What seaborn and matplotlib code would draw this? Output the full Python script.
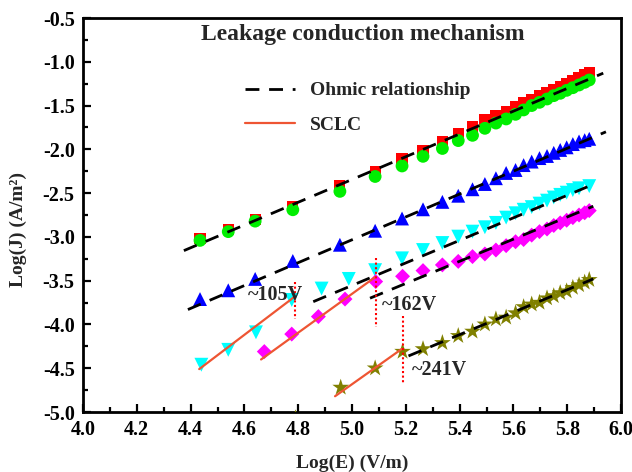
import matplotlib
matplotlib.use("Agg")
import matplotlib.pyplot as plt
from matplotlib.lines import Line2D
from matplotlib.ticker import MultipleLocator, FormatStrFormatter
import pandas as pd
import seaborn as sns

# ---- measured data: log10(E) [V/m] vs log10(J) [A/m^2] ----
x_common = [4.435, 4.54, 4.64, 4.78, 4.955, 5.086, 5.186, 5.264, 5.336, 5.395,
            5.448, 5.494, 5.535, 5.573, 5.608, 5.638, 5.668, 5.697, 5.725, 5.750,
            5.774, 5.798, 5.821, 5.844, 5.865, 5.882]

y_square = [-3.02, -2.92, -2.80, -2.65, -2.41, -2.255, -2.11, -2.01, -1.91, -1.82,
            -1.74, -1.665, -1.62, -1.57, -1.513, -1.467, -1.429, -1.39, -1.353, -1.322,
            -1.284, -1.246, -1.216, -1.178, -1.151, -1.12]

y_circle = [-3.04, -2.94, -2.82, -2.69, -2.48, -2.31, -2.19, -2.08, -1.99, -1.90,
            -1.84, -1.76, -1.70, -1.653, -1.60, -1.55, -1.50, -1.463, -1.425, -1.387,
            -1.36, -1.326, -1.296, -1.265, -1.235, -1.208]

y_up = [-3.71, -3.61, -3.48, -3.275, -3.09, -2.93, -2.79, -2.685, -2.60, -2.53,
        -2.456, -2.396, -2.33, -2.27, -2.236, -2.18, -2.14, -2.10, -2.076, -2.04,
        -2.007, -1.977, -1.94, -1.91, -1.895, -1.88]

x_down = [4.44, 4.54, 4.643, 4.776, 4.887, 4.988, 5.086, 5.186, 5.264, 5.336,
          5.395, 5.448, 5.494, 5.535, 5.573, 5.608, 5.638, 5.668, 5.697, 5.725,
          5.750, 5.774, 5.798, 5.821, 5.844, 5.882]
y_down = [-4.46, -4.29, -4.09, -3.72, -3.59, -3.48, -3.38, -3.245, -3.15, -3.07,
          -2.997, -2.94, -2.89, -2.84, -2.78, -2.73, -2.69, -2.66, -2.62, -2.586,
          -2.55, -2.52, -2.495, -2.465, -2.445, -2.42]

x_diamond = [4.674, 4.776, 4.875, 4.974, 5.088, 5.188, 5.264, 5.336, 5.395, 5.448,
             5.494, 5.535, 5.573, 5.608, 5.638, 5.668, 5.697, 5.725, 5.750, 5.774,
             5.798, 5.821, 5.844, 5.865, 5.882]
y_diamond = [-4.31, -4.11, -3.91, -3.71, -3.51, -3.45, -3.385, -3.32, -3.28, -3.225,
             -3.195, -3.15, -3.10, -3.055, -3.03, -2.98, -2.94, -2.91, -2.87, -2.84,
             -2.81, -2.78, -2.75, -2.725, -2.70]

x_star = [4.79, 4.958, 5.086, 5.188, 5.264, 5.336, 5.395, 5.448, 5.494, 5.535,
          5.573, 5.608, 5.638, 5.668, 5.697, 5.725, 5.750, 5.774, 5.798, 5.821,
          5.844, 5.865, 5.882]
y_star = [-5.07, -4.72, -4.50, -4.31, -4.28, -4.21, -4.13, -4.08, -3.998, -3.94,
          -3.92, -3.87, -3.80, -3.77, -3.75, -3.70, -3.675, -3.64, -3.62, -3.58,
          -3.55, -3.52, -3.49]

# ---- fitted segments (x0, x1, y0, y1) ----
ohmic_x0 = [4.375, 4.39, 4.856, 5.067, 5.21]
ohmic_x1 = [5.934, 5.944, 5.897, 5.897, 5.897]
ohmic_y0 = [-3.157, -3.83, -3.74, -3.70, -4.36]
ohmic_y1 = [-1.13, -1.80, -2.40, -2.65, -3.48]

sclc_x0 = [4.432, 4.662, 4.937]
sclc_x1 = [4.788, 5.086, 5.185]
sclc_y0 = [-4.51, -4.40, -4.82]
sclc_y1 = [-3.68, -3.46, -4.28]

# ---- onset voltages ----
onset_labels = ["~105V", "~162V", "~241V"]
onset_x = [4.788, 5.088, 5.188]
onset_ytop = [-3.51, -3.24, -3.90]
onset_ybot = [-3.94, -4.03, -4.68]
label_x = [4.612, 5.11, 5.222]
label_y = [-3.66, -3.78, -4.52]

sns.set_theme(style="ticks")
plt.rcParams["font.family"] = ["Liberation Serif", "DejaVu Serif"]
plt.rcParams["font.weight"] = "bold"
plt.rcParams["axes.labelweight"] = "bold"

fig = plt.figure(figsize=(6.32, 4.72), dpi=100)
ax = fig.add_axes([83 / 632, 1 - 412 / 472, 538 / 632, 394 / 472])

series = [
    (x_common, y_square, "s", "#FF0000", 65),
    (x_common, y_circle, "o", "#00EE00", 85),
    (x_common, y_up, "^", "#0000FF", 100),
    (x_down, y_down, "v", "#00FFFF", 100),
    (x_diamond, y_diamond, "D", "#FF00FF", 58),
    (x_star, y_star, "*", "#808000", 160),
]
for xs, ys, mk, col, sz in series:
    df = pd.DataFrame({"x": xs, "y": ys})
    sns.scatterplot(data=df, x="x", y="y", marker=mk, color=col, s=sz,
                    linewidth=0, edgecolor="none", ax=ax, zorder=3)

for x0, x1, y0, y1 in zip(ohmic_x0, ohmic_x1, ohmic_y0, ohmic_y1):
    seg = pd.DataFrame({"x": [x0, x1], "y": [y0, y1]})
    sns.lineplot(data=seg, x="x", y="y", color="black", lw=2.0, ax=ax,
                 estimator=None, sort=False, zorder=4,
                 linestyle=(0, (5, 3.5)))

for x0, x1, y0, y1 in zip(sclc_x0, sclc_x1, sclc_y0, sclc_y1):
    seg = pd.DataFrame({"x": [x0, x1], "y": [y0, y1]})
    sns.lineplot(data=seg, x="x", y="y", color="#EE5533", lw=1.6, ax=ax,
                 estimator=None, sort=False, zorder=4)

for xv, yt, yb in zip(onset_x, onset_ytop, onset_ybot):
    ax.plot([xv, xv], [yt, yb], color="#FF0000", lw=1.5,
            linestyle=(0, (1, 1.2)), zorder=5)

for lab, lx, ly in zip(onset_labels, label_x, label_y):
    ax.text(lx, ly, lab, fontsize=14.5, fontweight="bold", ha="left",
            va="center", zorder=6)

ax.text(0.52, 0.957, "Leakage conduction mechanism", transform=ax.transAxes,
        fontsize=17, fontweight="bold", ha="center", va="center")

handles = [
    Line2D([0], [0], color="black", lw=2.0, linestyle=(0, (5, 3.5))),
    Line2D([0], [0], color="#EE5533", lw=1.6),
]
ax.legend(handles, ["Ohmic relationship", "SCLC"], loc="upper left",
          bbox_to_anchor=(0.301, 0.838), frameon=False, borderpad=0,
          borderaxespad=0, handlelength=2.55, handletextpad=0.8,
          labelspacing=0.85,
          prop={"family": "Liberation Serif", "weight": "bold", "size": 14})

ax.set_xlim(4.0, 6.0)
ax.set_ylim(-5.0, -0.5)
ax.xaxis.set_major_locator(MultipleLocator(0.2))
ax.xaxis.set_minor_locator(MultipleLocator(0.1))
ax.yaxis.set_major_locator(MultipleLocator(0.5))
ax.yaxis.set_minor_locator(MultipleLocator(0.25))
ax.xaxis.set_major_formatter(FormatStrFormatter("%.1f"))
ax.yaxis.set_major_formatter(FormatStrFormatter("%.1f"))
ax.tick_params(which="both", direction="in", top=False, right=False, width=1.6,
               labelsize=14.5, pad=6, colors="black")
ax.tick_params(which="major", length=6)
ax.tick_params(which="minor", length=3.5)
for lbl in ax.get_xticklabels() + ax.get_yticklabels():
    lbl.set_fontweight("bold")
for sp in ax.spines.values():
    sp.set_linewidth(2.0)
    sp.set_color("black")
    sp.set_visible(True)

ax.set_xlabel("Log(E) (V/m)", fontsize=14, fontweight="bold", labelpad=10)
ax.set_ylabel("Log(J) (A/m²)", fontsize=14, fontweight="bold", labelpad=6)
ax.yaxis.set_label_coords(-0.105, 0.462)
ax.grid(False)
ax.set_facecolor("white")
fig.patch.set_facecolor("white")

fig.savefig("out.png", dpi=100)
